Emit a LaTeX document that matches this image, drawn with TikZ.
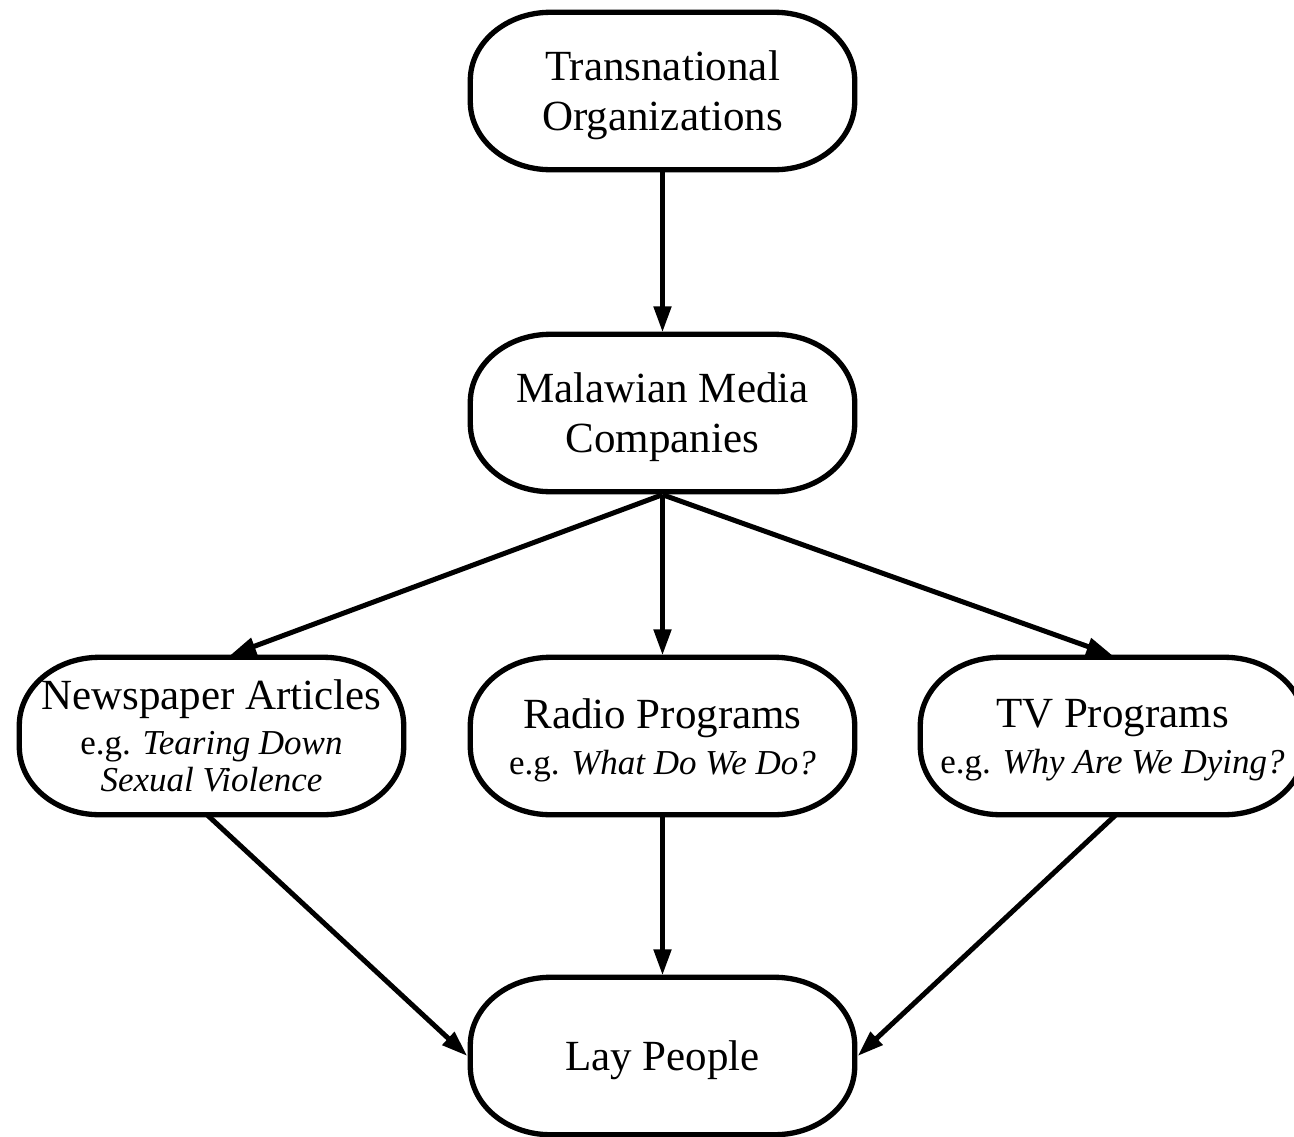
\documentclass[tikz,border=0pt]{standalone}
\usepackage{fontspec}
\setmainfont{Liberation Serif}
\usetikzlibrary{arrows.meta,calc}
\newcommand{\smalltxt}{\fontsize{35}{37}\selectfont}
\begin{document}
\begin{tikzpicture}[x=1pt,y=-1pt,
  boxnode/.style={rectangle, inner sep=0pt, minimum width=384pt, minimum height=157pt,
    align=center, font=\fontsize{43}{50}\selectfont},
  boxline/.style={line width=5.3pt},
  conn/.style={line width=5pt, -{Triangle[length=26pt,width=17pt]}}]
\clip (0,0) rectangle (1294,1136);
\fill[white] (0,0) rectangle (1294,1136);
\node[boxnode] (tn) at (662.5,95.5) {Transnational\\Organizations};
\node[boxnode] (mm) at (662.5,417.5) {Malawian Media\\Companies};
\node[boxnode] (np) at (211.5,736) {Newspaper Articles\\[-5pt]{\smalltxt e.g. \textit{Tearing Down}}\\[-13pt]{\smalltxt\textit{Sexual Violence}}};
\node[boxnode] (rp) at (662.5,740.5) {Radio Programs\\[-4pt]{\smalltxt e.g. \textit{What Do We Do?}}};
\node[boxnode] (tv) at (1112.5,740.5) {TV Programs\\[-4pt]{\smalltxt e.g. \textit{Why Are We Dying?}}};
\node[boxnode] (lp) at (662.5,1060.5) {Lay People};
\def\rx{80pt}\def\ry{68pt}
\foreach \n/\d in {tn/4.5pt,mm/4.5pt,np/0pt,rp/4.5pt,tv/4.5pt,lp/4.5pt}{
  \draw[boxline] ([xshift=\rx,yshift=\d]\n.north west) -- ([xshift=-\rx,yshift=\d]\n.north east)
    arc[start angle=90,end angle=0,x radius=\rx,y radius=\ry]
    -- ([yshift=\ry+\d]\n.south east)
    arc[start angle=0,end angle=-90,x radius=\rx,y radius=\ry]
    -- ([xshift=\rx,yshift=\d]\n.south west)
    arc[start angle=270,end angle=180,x radius=\rx,y radius=\ry]
    -- ([yshift=-\ry+\d]\n.north west)
    arc[start angle=180,end angle=90,x radius=\rx,y radius=\ry] -- cycle;
}
\coordinate (tnb) at ($(tn.south)+(0,-4.5)$);
\coordinate (mmn) at ($(mm.north)+(0,-6.5)$);
\coordinate (mmb) at ($(mm.south)+(0,-1.5)$);
\coordinate (npt) at ($(np.north)+(18.5,-2)$);
\coordinate (rpt) at ($(rp.north)+(0,-6.5)$);
\coordinate (tvt) at ($(tv.north)+(0,-6.5)$);
\coordinate (npb) at ($(np.south)+(-4.5,0)$);
\coordinate (rpb) at ($(rp.south)+(0,-4.5)$);
\coordinate (tvb) at ($(tv.south)+(3.5,-4.5)$);
\coordinate (lpw) at ($(lp.west)+(-3,-4.5)$);
\coordinate (lpe) at ($(lp.east)+(3,-4.5)$);
\coordinate (lpn) at ($(lp.north)+(0,-6.5)$);
\draw[conn] (tnb) -- (mmn);
\draw[conn] (mmb) -- (npt);
\draw[conn] (mmb) -- (rpt);
\draw[conn] (mmb) -- (tvt);
\draw[conn] (npb) -- (lpw);
\draw[conn] (rpb) -- (lpn);
\draw[conn] (tvb) -- (lpe);
\end{tikzpicture}
\end{document}
